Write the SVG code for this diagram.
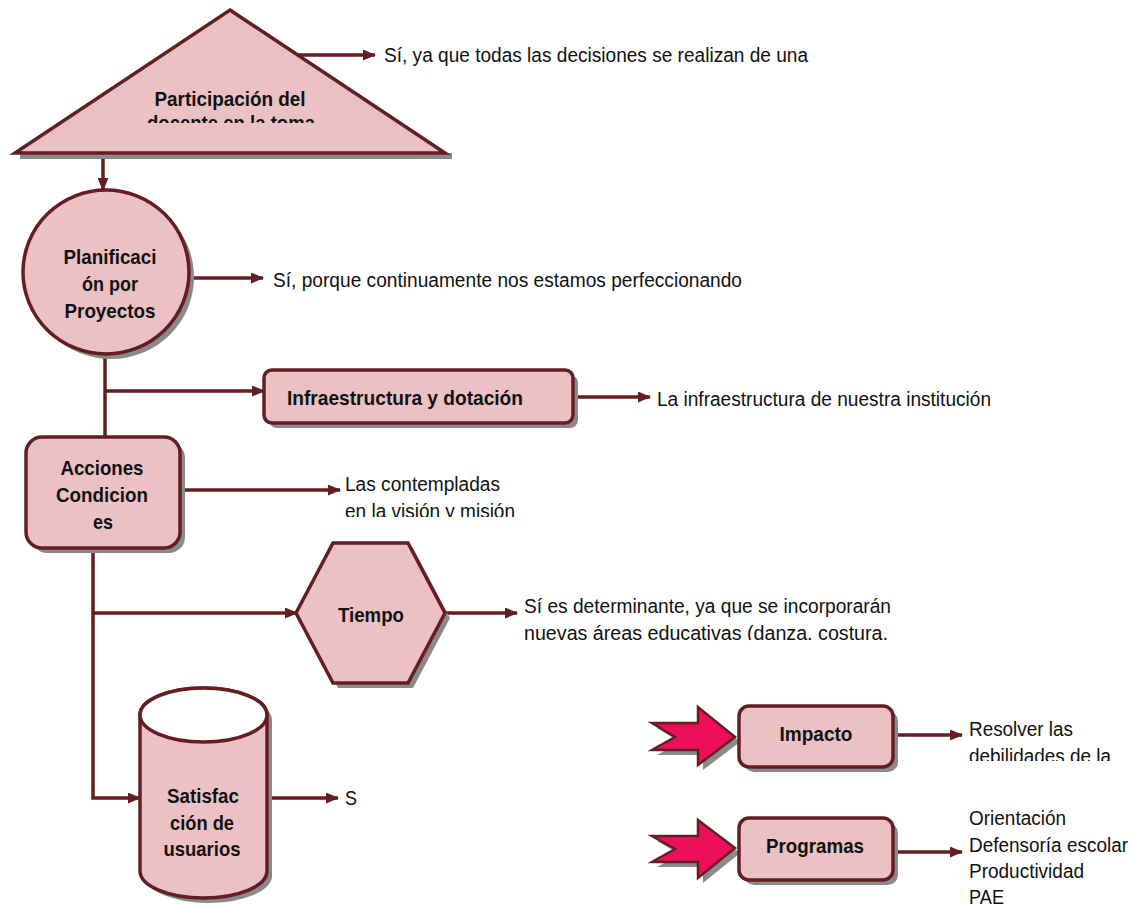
<svg xmlns="http://www.w3.org/2000/svg" width="1135" height="904" viewBox="0 0 1135 904">
  <defs>
    <style>
      .shape { fill: #EBC1C4; stroke: #641E22; stroke-width: 3.5; }
      .shadow { fill: #8A8A8A; stroke: none; }
      .conn { fill: none; stroke: #641E22; stroke-width: 3.5; }
      .lbl { font-family: "Liberation Sans Narrow", "Arial Narrow", "Liberation Sans", sans-serif; font-weight: bold; font-size: 21px; fill: #111; text-anchor: middle; dominant-baseline: central; }
      .txt { font-family: "Liberation Sans Narrow", "Arial Narrow", "Liberation Sans", sans-serif; font-size: 20px; fill: #111; dominant-baseline: central; }
      .burst { fill: #EE0E5C; stroke: #641E22; stroke-width: 2.5; }
    </style>
    <marker id="ah" viewBox="0 0 13 11" refX="12" refY="5.5" markerWidth="13" markerHeight="11" markerUnits="userSpaceOnUse" orient="auto">
      <path d="M0,0 L13,5.5 L0,11 Z" fill="#641E22"/>
    </marker>
    <clipPath id="clipTri"><rect x="0" y="0" width="460" height="123"/></clipPath>
    <clipPath id="clipAcc"><rect x="330" y="460" width="300" height="57"/></clipPath>
    <clipPath id="clipTiempo"><rect x="510" y="585" width="420" height="55"/></clipPath>
    <clipPath id="clipImpacto"><rect x="960" y="710" width="175" height="51"/></clipPath>
  </defs>

  <!-- connectors -->
  <g id="connectors">
    <path class="conn" d="M298,55 H375" marker-end="url(#ah)"/>
    <path class="conn" d="M103,155 V190" marker-end="url(#ah)"/>
    <path class="conn" d="M189,278 H263" marker-end="url(#ah)"/>
    <path class="conn" d="M105,352 V437"/>
    <path class="conn" d="M105,391 H264" marker-end="url(#ah)"/>
    <path class="conn" d="M573,397 H650" marker-end="url(#ah)"/>
    <path class="conn" d="M180,490 H340" marker-end="url(#ah)"/>
    <path class="conn" d="M93,548 V798 H140" marker-end="url(#ah)"/>
    <path class="conn" d="M93,613 H297" marker-end="url(#ah)"/>
    <path class="conn" d="M445,613 H517" marker-end="url(#ah)"/>
    <path class="conn" d="M267,798 H338" marker-end="url(#ah)"/>
    <path class="conn" d="M893,735 H962" marker-end="url(#ah)"/>
    <path class="conn" d="M893,852 H962" marker-end="url(#ah)"/>
  </g>

  <!-- Participación del docente -->
  <g id="participacion">
    <path class="shadow" d="M20,153 L452,153 L452,159 L20,159 Z"/>
    <path class="shape" d="M230,10 L445,153 L15,153 Z"/>
    <g clip-path="url(#clipTri)">
      <text class="lbl" x="230" y="98" textLength="151" lengthAdjust="spacingAndGlyphs">Participación del</text>
      <text class="lbl" x="231" y="122" textLength="168" lengthAdjust="spacingAndGlyphs">docente en la toma</text>
    </g>
  </g>
  <text class="txt" x="384" y="55" textLength="424" lengthAdjust="spacingAndGlyphs">Sí, ya que todas las decisiones se realizan de una</text>

  <!-- Planificación por Proyectos -->
  <g id="planificacion">
    <ellipse class="shadow" cx="111" cy="277" rx="83" ry="82"/>
    <ellipse class="shape" cx="106" cy="272" rx="83" ry="82"/>
    <text class="lbl" x="110" y="256" textLength="93" lengthAdjust="spacingAndGlyphs">Planificaci</text>
    <text class="lbl" x="110" y="283" textLength="56" lengthAdjust="spacingAndGlyphs">ón por</text>
    <text class="lbl" x="110" y="310" textLength="91" lengthAdjust="spacingAndGlyphs">Proyectos</text>
  </g>
  <text class="txt" x="273" y="280" textLength="469" lengthAdjust="spacingAndGlyphs">Sí, porque continuamente nos estamos perfeccionando</text>

  <!-- Infraestructura y dotación -->
  <g id="infraestructura">
    <rect class="shadow" x="269" y="375" width="309" height="53" rx="8"/>
    <rect class="shape" x="264" y="370" width="309" height="53" rx="8"/>
    <text class="lbl" x="287" y="397" style="text-anchor:start" textLength="236" lengthAdjust="spacingAndGlyphs">Infraestructura y dotación</text>
  </g>
  <text class="txt" x="657" y="399" textLength="334" lengthAdjust="spacingAndGlyphs">La infraestructura de nuestra institución</text>

  <!-- Acciones Condiciones -->
  <g id="acciones">
    <rect class="shadow" x="31" y="442" width="154" height="111" rx="16"/>
    <rect class="shape" x="26" y="437" width="154" height="111" rx="16"/>
    <text class="lbl" x="102" y="467" textLength="83" lengthAdjust="spacingAndGlyphs">Acciones</text>
    <text class="lbl" x="102" y="494" textLength="92" lengthAdjust="spacingAndGlyphs">Condicion</text>
    <text class="lbl" x="103" y="521" textLength="20" lengthAdjust="spacingAndGlyphs">es</text>
  </g>
  <g clip-path="url(#clipAcc)">
    <text class="txt" x="345" y="484" textLength="155" lengthAdjust="spacingAndGlyphs">Las contempladas</text>
    <text class="txt" x="345" y="511" textLength="170" lengthAdjust="spacingAndGlyphs">en la visión y misión</text>
  </g>

  <!-- Tiempo -->
  <g id="tiempo">
    <path class="shadow" d="M301,618 L338,548 L413,548 L450,618 L413,688 L338,688 Z"/>
    <path class="shape" d="M296,613 L333,543 L408,543 L445,613 L408,683 L333,683 Z"/>
    <text class="lbl" x="371" y="614" textLength="66" lengthAdjust="spacingAndGlyphs">Tiempo</text>
  </g>
  <g clip-path="url(#clipTiempo)">
    <text class="txt" x="524" y="606" textLength="367" lengthAdjust="spacingAndGlyphs">Sí es determinante, ya que se incorporarán</text>
    <text class="txt" x="524" y="633" textLength="364" lengthAdjust="spacingAndGlyphs">nuevas áreas educativas (danza, costura,</text>
  </g>

  <!-- Satisfacción de usuarios -->
  <g id="satisfaccion">
    <path class="shadow" d="M145,720 A63.5,27 0 0 1 272,720 V876 A63.5,27 0 0 1 145,876 Z"/>
    <path class="shape" d="M140,715 A63.5,27 0 0 1 267,715 V871 A63.5,27 0 0 1 140,871 Z"/>
    <ellipse cx="203.5" cy="715" rx="63.5" ry="27" fill="#FFFFFF" stroke="#641E22" stroke-width="3.5"/>
    <text class="lbl" x="203" y="795" textLength="72" lengthAdjust="spacingAndGlyphs">Satisfac</text>
    <text class="lbl" x="202" y="822" textLength="64" lengthAdjust="spacingAndGlyphs">ción de</text>
    <text class="lbl" x="202" y="848" textLength="77" lengthAdjust="spacingAndGlyphs">usuarios</text>
  </g>
  <text class="txt" x="345" y="798" textLength="12" lengthAdjust="spacingAndGlyphs">S</text>

  <!-- Impacto -->
  <g id="impacto">
    <path class="shadow" d="M657,728 L703,728 L703,712 L740,742 L703,770 L703,755 L657,755 L680,742 Z"/>
    <path class="burst" d="M652,723 L698,723 L698,707 L735,737 L698,765 L698,750 L652,750 L675,737 Z"/>
    <rect class="shadow" x="744" y="711" width="154" height="61" rx="10"/>
    <rect class="shape" x="739" y="706" width="154" height="61" rx="10"/>
    <text class="lbl" x="816" y="733" textLength="73" lengthAdjust="spacingAndGlyphs">Impacto</text>
  </g>
  <g clip-path="url(#clipImpacto)">
    <text class="txt" x="969" y="729" textLength="104" lengthAdjust="spacingAndGlyphs">Resolver las</text>
    <text class="txt" x="969" y="756" textLength="142" lengthAdjust="spacingAndGlyphs">debilidades de la</text>
  </g>

  <!-- Programas -->
  <g id="programas">
    <path class="shadow" d="M657,841 L703,841 L703,825 L740,853 L703,883 L703,867 L657,867 L680,854 Z"/>
    <path class="burst" d="M652,836 L698,836 L698,820 L735,848 L698,878 L698,862 L652,862 L675,849 Z"/>
    <rect class="shadow" x="744" y="823" width="154" height="62" rx="10"/>
    <rect class="shape" x="739" y="818" width="154" height="62" rx="10"/>
    <text class="lbl" x="815" y="845" textLength="98" lengthAdjust="spacingAndGlyphs">Programas</text>
  </g>
  <text class="txt" x="969" y="818" textLength="97" lengthAdjust="spacingAndGlyphs">Orientación</text>
  <text class="txt" x="969" y="845" textLength="159" lengthAdjust="spacingAndGlyphs">Defensoría escolar</text>
  <text class="txt" x="969" y="871" textLength="115" lengthAdjust="spacingAndGlyphs">Productividad</text>
  <text class="txt" x="969" y="897" textLength="35" lengthAdjust="spacingAndGlyphs">PAE</text>
</svg>
